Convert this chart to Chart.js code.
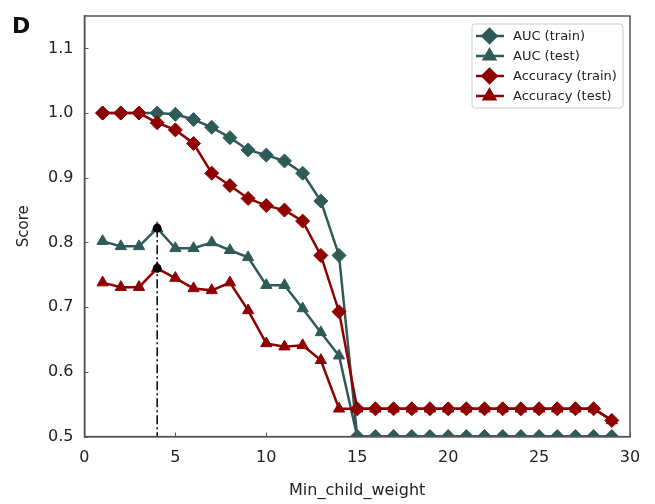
<!DOCTYPE html>
<html>
<head>
<meta charset="utf-8">
<script src="https://cdn.jsdelivr.net/npm/chart.js@4"></script>
<style>
  body { margin: 0; background: #fff; }
  #wrap { width: 655px; height: 504px; }
</style>
</head>
<body>
<div id="wrap"><canvas id="chart" width="655" height="504"></canvas></div>
<script>
const weights = [1, 2, 3, 4, 5, 6, 7, 8, 9, 10, 11, 12, 13, 14, 15, 16, 17, 18, 19, 20,
  21, 22, 23, 24, 25, 26, 27, 28, 29];
const aucTrain = [1.0, 1.0, 1.0, 1.0, 0.998, 0.99, 0.978, 0.962, 0.943, 0.935, 0.926, 0.907,
  0.864, 0.78, 0.5, 0.5, 0.5, 0.5, 0.5, 0.5, 0.5, 0.5, 0.5, 0.5, 0.5, 0.5, 0.5, 0.5, 0.5];
const aucTest = [0.802, 0.794, 0.794, 0.822, 0.791, 0.791, 0.80, 0.788, 0.777, 0.734, 0.734,
  0.698, 0.661, 0.625, 0.5, 0.5, 0.5, 0.5, 0.5, 0.5, 0.5, 0.5, 0.5, 0.5, 0.5, 0.5, 0.5, 0.5, 0.5];
const accTrain = [1.0, 1.0, 1.0, 0.985, 0.974, 0.953, 0.907, 0.888, 0.868, 0.857, 0.85, 0.833,
  0.78, 0.693, 0.543, 0.543, 0.543, 0.543, 0.543, 0.543, 0.543, 0.543, 0.543, 0.543, 0.543,
  0.543, 0.543, 0.543, 0.525];
const accTest = [0.738, 0.731, 0.731, 0.76, 0.745, 0.729, 0.726, 0.738, 0.695, 0.644, 0.639,
  0.641, 0.618, 0.543, 0.543, 0.543, 0.543, 0.543, 0.543, 0.543, 0.543, 0.543, 0.543, 0.543,
  0.543, 0.543, 0.543, 0.543, 0.525];
const bestWeight = 4;
const bestScores = [0.822, 0.76];
const xTicks = [0, 5, 10, 15, 20, 25, 30];
const yTicks = [0.5, 0.6, 0.7, 0.8, 0.9, 1.0, 1.1];

const teal = '#2e5b58';
const red = '#8f0000';
const font = 'DejaVu Sans';

function pts(ys) {
  return weights.map((w, i) => ({ x: w, y: ys[i] }));
}

const legendItems = [
  { label: 'AUC (train)', color: teal, style: 'rectRot' },
  { label: 'AUC (test)', color: teal, style: 'triangle' },
  { label: 'Accuracy (train)', color: red, style: 'rectRot' },
  { label: 'Accuracy (test)', color: red, style: 'triangle' }
];

const framePlugin = {
  id: 'frame',
  afterDraw(c) {
    const a = c.chartArea, ctx = c.ctx;
    ctx.save();
    ctx.strokeStyle = '#555';
    ctx.lineWidth = 1.5;
    ctx.strokeRect(a.left, a.top, a.right - a.left, a.bottom - a.top);
    // inward tick marks
    ctx.lineWidth = 1;
    ctx.beginPath();
    xTicks.forEach(v => {
      const px = Math.round(c.scales.x.getPixelForValue(v)) + 0.5;
      ctx.moveTo(px, a.bottom);
      ctx.lineTo(px, a.bottom - 4);
    });
    yTicks.forEach(v => {
      const py = Math.round(c.scales.y.getPixelForValue(v)) + 0.5;
      ctx.moveTo(a.left, py);
      ctx.lineTo(a.left + 4, py);
    });
    ctx.stroke();
    // panel letter
    ctx.fillStyle = '#111';
    ctx.font = 'bold 22px ' + font;
    ctx.textBaseline = 'alphabetic';
    ctx.fillText('D', 12, 33);
    // legend
    const bx = 472, by = 24, bw = 151, bh = 84;
    ctx.fillStyle = '#fff';
    ctx.strokeStyle = '#ccc';
    ctx.lineWidth = 1;
    ctx.beginPath();
    ctx.roundRect(bx, by, bw, bh, 3);
    ctx.fill();
    ctx.stroke();
    ctx.font = '13px ' + font;
    ctx.textBaseline = 'middle';
    legendItems.forEach((it, i) => {
      const y = by + 12 + i * 20;
      ctx.strokeStyle = it.color;
      ctx.lineWidth = 2.5;
      ctx.beginPath();
      ctx.moveTo(bx + 4, y);
      ctx.lineTo(bx + 32, y);
      ctx.stroke();
      ctx.fillStyle = it.color;
      Chart.helpers.drawPoint(ctx, {
        pointStyle: it.style, radius: it.style === 'rectRot' ? 7 : 6.5, rotation: 0, borderWidth: 1
      }, bx + 17.5, y);
      ctx.fillStyle = '#222';
      ctx.fillText(it.label, bx + 41, y + 1);
    });
    ctx.restore();
  }
};

function series(label, ys, color, style, radius, order) {
  return {
    label: label,
    data: pts(ys),
    borderColor: color,
    backgroundColor: color,
    pointBackgroundColor: color,
    pointBorderColor: color,
    pointStyle: style,
    pointRadius: radius,
    pointBorderWidth: 1,
    borderWidth: 2.5,
    order: order
  };
}

new Chart(document.getElementById('chart'), {
  type: 'line',
  data: {
    datasets: [
      {
        label: 'best',
        data: [{ x: bestWeight, y: bestScores[0] }, { x: bestWeight, y: bestScores[1] }],
        showLine: false,
        pointRadius: 4,
        pointBackgroundColor: '#000',
        pointBorderColor: '#000',
        order: 0
      },
      {
        label: 'bestLine',
        data: [{ x: bestWeight, y: bestScores[0] }, { x: bestWeight, y: 0.5 }],
        borderColor: '#000',
        borderWidth: 1.5,
        borderDash: [9, 3, 2, 3],
        pointRadius: 0,
        order: 1
      },
      series('Accuracy (train)', accTrain, red, 'rectRot', 7, 2),
      series('Accuracy (test)', accTest, red, 'triangle', 6.5, 3),
      series('AUC (test)', aucTest, teal, 'triangle', 6.5, 4),
      series('AUC (train)', aucTrain, teal, 'rectRot', 7, 5)
    ]
  },
  options: {
    responsive: false,
    animation: false,
    layout: { padding: { left: 15, right: 25, top: 16, bottom: 0 } },
    plugins: {
      legend: { display: false },
      tooltip: { enabled: false }
    },
    scales: {
      x: {
        type: 'linear',
        min: 0,
        max: 30,
        afterBuildTicks: s => { s.ticks = xTicks.map(v => ({ value: v })); },
        grid: { display: true, drawOnChartArea: false, drawTicks: false },
        border: { color: '#555', width: 1.5 },
        ticks: { color: '#222', font: { family: font, size: 16 }, padding: 12 },
        title: { display: true, text: 'Min_child_weight', color: '#222',
          font: { family: font, size: 16 }, padding: { top: 1, bottom: 4 } }
      },
      y: {
        min: 0.5,
        max: 1.15,
        afterBuildTicks: s => { s.ticks = yTicks.map(v => ({ value: v })); },
        afterFit: s => { s.paddingTop = 4; s.paddingBottom = 4; },
        grid: { display: true, drawOnChartArea: false, drawTicks: false },
        border: { color: '#555', width: 1.5 },
        ticks: { color: '#222', font: { family: font, size: 16 }, padding: 11,
          callback: v => v.toFixed(1) },
        title: { display: true, text: 'Score', color: '#222',
          font: { family: font, size: 15 }, padding: { top: 0, bottom: 4 } }
      }
    }
  },
  plugins: [framePlugin]
});
</script>
</body>
</html>
